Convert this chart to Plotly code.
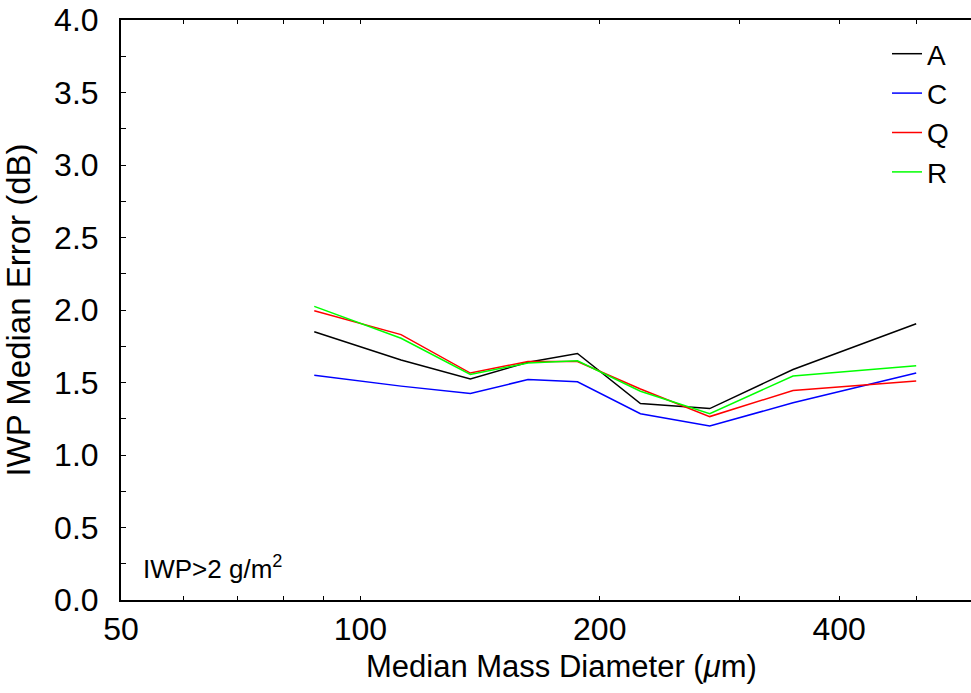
import math
import plotly.graph_objects as go

# Data
diameter = [87.5, 112.5, 137.5, 162.5, 187.5, 225, 275, 350, 500]
series_names = ["A", "C", "Q", "R"]
err_A = [1.85, 1.655, 1.525, 1.64, 1.70, 1.355, 1.32, 1.59, 1.905]
err_C = [1.55, 1.475, 1.425, 1.52, 1.505, 1.285, 1.20, 1.36, 1.565]
err_Q = [1.995, 1.83, 1.565, 1.645, 1.645, 1.455, 1.265, 1.445, 1.51]
err_R = [2.025, 1.805, 1.555, 1.635, 1.65, 1.44, 1.285, 1.545, 1.615]
series_colors = ["#000000", "#0000ff", "#ff0000", "#00ff00"]

x_tickvals = [50, 100, 200, 400]
x_ticktext = ["50", "100", "200", "400"]
x_minorvals = [60, 70, 80, 90, 300, 500]
y_tickvals = [0.0, 0.5, 1.0, 1.5, 2.0, 2.5, 3.0, 3.5, 4.0]

FONT = "Liberation Sans, Arial, sans-serif"

fig = go.Figure()
for name, ys, col in zip(series_names, [err_A, err_C, err_Q, err_R], series_colors):
    fig.add_trace(go.Scatter(x=diameter, y=ys, mode="lines", name=name,
                             line=dict(color=col, width=1.5)))

W, H = 971, 693
L, T, B = 121, 20, 93
fig.update_layout(
    width=W, height=H,
    margin=dict(l=L, r=0, t=T, b=B),
    paper_bgcolor="white", plot_bgcolor="white",
    font=dict(family=FONT, color="black", size=30),
    showlegend=True,
    legend=dict(x=(887 - L) / (W - L), xanchor="left", y=(600 - 29) / 580, yanchor="top",
                font=dict(size=28, family=FONT), bgcolor="rgba(0,0,0,0)",
                tracegroupgap=0),
    xaxis=dict(type="log", range=[math.log10(50), math.log10(586)],
               tickvals=x_tickvals, ticktext=x_ticktext,
               ticks="inside", ticklen=4, tickwidth=1, tickcolor="black",
               minor=dict(tickvals=x_minorvals, ticks="inside", ticklen=4, tickwidth=1,
                          tickcolor="black", showgrid=False),
               showline=True, linecolor="black", linewidth=2, mirror="allticks",
               showgrid=False, zeroline=False,
               tickfont=dict(size=32, family=FONT),
               ticklabelstandoff=0),
    yaxis=dict(range=[0, 4], tickvals=y_tickvals, tickformat=".1f",
               ticks="inside", ticklen=5, tickwidth=1, tickcolor="black",
               minor=dict(dtick=0.25, ticks="inside", ticklen=5, tickcolor="black", showgrid=False),
               showline=True, linecolor="black", linewidth=2, mirror=False,
               showgrid=False, zeroline=False,
               tickfont=dict(size=32, family=FONT),
               ticklabelstandoff=14,
               title=dict(text="IWP Median Error (dB)", font=dict(size=33, family=FONT), standoff=14)),
)

fig.add_annotation(text="Median Mass Diameter (<i>μ</i>m)", xref="paper", yref="paper",
                   x=(561 - L) / (W - L), y=-(666 - 600) / 580, xanchor="center", yanchor="middle",
                   showarrow=False, font=dict(size=31, family=FONT))
fig.add_annotation(text="IWP&gt;2 g/m<sup>2</sup>", xref="paper", yref="paper",
                   x=(141 - L) / (W - L), y=(600 - 567) / 580, xanchor="left", yanchor="middle",
                   showarrow=False, font=dict(size=26, family=FONT))

fig.write_html("out.html")
